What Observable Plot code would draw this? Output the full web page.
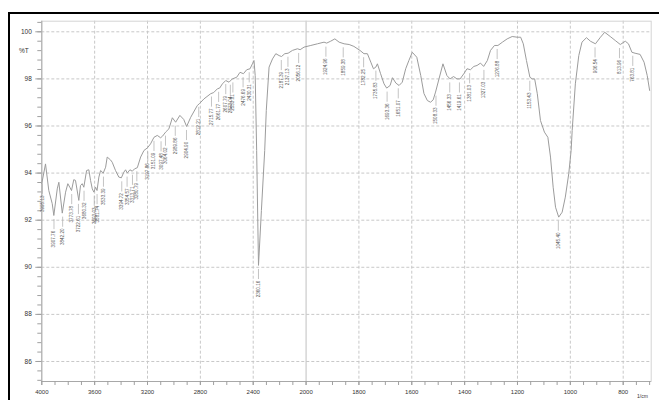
<!DOCTYPE html>
<html><head><meta charset="utf-8">
<script src="https://cdn.jsdelivr.net/npm/d3@7"></script>
<script src="https://cdn.jsdelivr.net/npm/@observablehq/plot@0.6"></script>
<style>
body{margin:0;background:#fff;}
#wrap{position:relative;width:659px;height:400px;overflow:hidden;font-family:"Liberation Sans",Arial,sans-serif;}
#border{position:absolute;left:8px;top:12px;width:800px;height:600px;border-left:2px solid #000;border-top:2px solid #000;}
#chart{position:absolute;left:0;top:0;}
.lab{position:absolute;color:#333;white-space:nowrap;}
</style></head><body>
<div id="wrap"><div id="border"></div><div id="chart"></div>
<div class="lab" style="left:19px;top:47px;font-size:6.5px;">%T</div>
<div class="lab" style="left:637px;top:393px;font-size:5px;">1/cm</div>
</div>
<script>
const wavenumbers = [4000,3972,3947,3921,3909,3883,3871,3845,3820,3803,3788,3775,3758,3745,3720,3707,3694,3682,3661,3644,3631,3618,3606,3593,3582,3568,3555,3535,3517,3505,3480,3467,3442,3417,3398,3379,3366,3353,3333,3315,3298,3277,3252,3227,3201,3177,3151,3126,3101,3086,3063,3038,3012,2987,2955,2926,2904,2873,2823,2805,2773,2722,2699,2671,2654,2633,2608,2583,2558,2525,2500,2474,2449,2424,2406,2394,2385,2374,2360,2338,2313,2301,2280,2254,2229,2204,2186,2161,2136,2103,2065,2045,2015,1982,1957,1932,1922,1907,1891,1875,1856,1837,1819,1796,1781,1768,1755,1745,1736,1730,1718,1705,1695,1682,1673,1660,1648,1636,1623,1611,1598,1581,1566,1554,1541,1529,1519,1510,1497,1482,1467,1455,1442,1429,1417,1403,1391,1378,1365,1353,1340,1328,1314,1302,1287,1274,1257,1239,1220,1201,1188,1178,1166,1153,1144,1135,1125,1113,1098,1085,1075,1065,1056,1044,1031,1019,1006,997,993,981,968,956,939,924,905,886,870,849,830,811,792,780,767,755,736,721,709,700];
const transmittance = [93.56,94.39,93.26,92.70,92.20,93.33,93.61,92.30,93.19,93.55,93.40,93.26,93.72,93.69,92.84,93.47,93.55,93.40,94.11,94.14,93.69,93.33,93.19,93.40,93.26,93.83,94.11,94.00,94.25,94.68,94.56,94.46,94.11,93.83,93.80,94.04,94.14,94.00,94.14,94.08,94.18,94.23,94.68,94.96,95.07,95.24,95.52,95.60,95.50,95.57,95.74,95.88,96.35,96.16,96.45,96.28,95.98,96.37,96.87,96.96,97.15,97.37,97.42,97.58,97.61,97.79,97.93,97.86,98.00,98.07,98.28,98.22,98.39,98.43,98.64,98.78,98.14,94.96,90.08,92.41,94.96,96.66,98.50,98.85,99.07,98.99,98.95,99.07,99.09,99.21,99.28,99.24,99.35,99.42,99.49,99.56,99.52,99.60,99.70,99.56,99.49,99.46,99.38,99.21,99.07,99.07,98.71,98.43,98.50,98.64,98.22,97.79,97.61,97.72,98.05,97.82,97.72,97.86,98.43,98.78,99.13,98.92,98.14,97.38,97.08,97.01,97.11,97.44,98.00,98.64,98.14,98.00,98.10,98.00,98.00,98.22,98.43,98.39,98.53,98.57,98.67,98.53,98.78,99.21,99.42,99.42,99.56,99.70,99.80,99.77,99.77,99.49,98.78,98.07,98.00,98.00,97.37,96.23,95.74,95.52,94.68,93.40,92.55,92.13,92.34,92.98,93.97,94.96,95.81,97.79,98.99,99.56,99.75,99.60,99.49,99.77,99.98,99.80,99.63,99.46,99.60,99.49,99.13,99.09,99.04,98.71,98.14,97.51];

const peakPositions = [3995.13,3907.76,3842.20,3773.78,3722.61,3680.32,3603.03,3581.74,3533.39,3394.72,3354.57,3313.71,3280.79,3197.86,3151.09,3097.48,3064.02,2989.86,2904.90,2812.21,2715.77,2661.77,2607.79,2573.04,2553.81,2476.69,2430.31,2360.16,2187.39,2137.13,2056.12,1924.96,1859.38,1782.25,1735.83,1693.36,1651.07,1508.33,1456.33,1419.61,1381.03,1327.03,1276.88,1153.43,1045.40,906.54,813.96,763.81];
const peakTransmittance = [93.70,92.20,92.30,93.26,92.84,93.40,93.19,93.26,94.00,93.80,94.00,94.08,94.23,95.07,95.52,95.50,95.74,96.16,95.98,96.96,97.40,97.60,97.93,97.90,98.00,98.22,98.43,90.08,98.95,99.09,99.25,99.52,99.49,99.07,98.50,97.61,97.75,97.44,98.00,98.00,98.39,98.53,99.42,98.07,92.13,99.49,99.46,99.13];

const xTickLabels = [4000,3600,3200,2800,2400,2000,1800,1600,1400,1200,1000,800];
const yTickLabels = [86,88,90,92,94,96,98,100];

const spectrum = wavenumbers.map((w, i) => ({wn: w, t: transmittance[i]}));
const peaks = peakPositions.map((w, i) => ({wn: w, t: peakTransmittance[i], label: w.toFixed(2)}));

const xMinor = d3.range(4000, 2000, -100).concat(d3.range(2000, 699, -50));
const yMinor = d3.range(85.2, 100.45, 0.4).map(v => +v.toFixed(1));

// Shimadzu-style axis: 4000-2000 compressed, below 2000 expanded twice
const foldX = w => w >= 2000 ? 4000 - w : 2000 + (2000 - w) * 2;

const gridColor = "#c8c8c8";
const chart = Plot.plot({
  width: 659,
  height: 400,
  marginLeft: 41.3,
  marginRight: 8.3,
  marginTop: 20.7,
  marginBottom: 19,
  style: {fontFamily: "Liberation Sans, Arial, sans-serif", color: "#333", background: "transparent"},
  x: {transform: foldX, domain: [0, 4612]},
  y: {domain: [85.15, 100.45]},
  marks: [
    Plot.gridY(yTickLabels, {stroke: gridColor, strokeOpacity: 1, strokeDasharray: "3,2"}),
    Plot.gridX(xTickLabels.filter(d => d !== 2000 && d !== 4000), {stroke: gridColor, strokeOpacity: 1, strokeDasharray: "3,2"}),
    Plot.ruleX([2000], {stroke: "#c0c0c0"}),
    Plot.frame({stroke: "#d4d4d4"}),
    Plot.ruleX([4000], {stroke: "#a8a8a8"}),
    Plot.ruleY([85.15], {stroke: "#a8a8a8"}),
    Plot.axisX(xMinor, {tickSize: 4, text: null, stroke: "#a0a0a0", label: null}),
    Plot.axisX(xTickLabels, {tickSize: 4, tickPadding: 4, fontSize: 6, stroke: "#a0a0a0", fill: "#333", tickFormat: d => String(d), label: null}),
    Plot.axisY(yMinor, {tickSize: 4, text: null, stroke: "#a0a0a0", label: null}),
    Plot.axisY(yTickLabels, {tickSize: 6, tickPadding: 4, fontSize: 6.5, stroke: "#a0a0a0", fill: "#333", label: null}),
    Plot.line(spectrum, {x: "wn", y: "t", stroke: "#9c9c9c", strokeWidth: 1}),
    Plot.ruleX(peaks, {x: "wn", y1: d => d.t - 0.17, y2: d => d.t - 0.6, stroke: "#aaa", strokeWidth: 0.7}),
    Plot.text(peaks, {x: "wn", y: d => d.t - 0.65, text: "label", rotate: -90, textAnchor: "end", fontSize: 4.6, fill: "#555"})
  ]
});
document.getElementById("chart").appendChild(chart);
</script>
</body></html>
